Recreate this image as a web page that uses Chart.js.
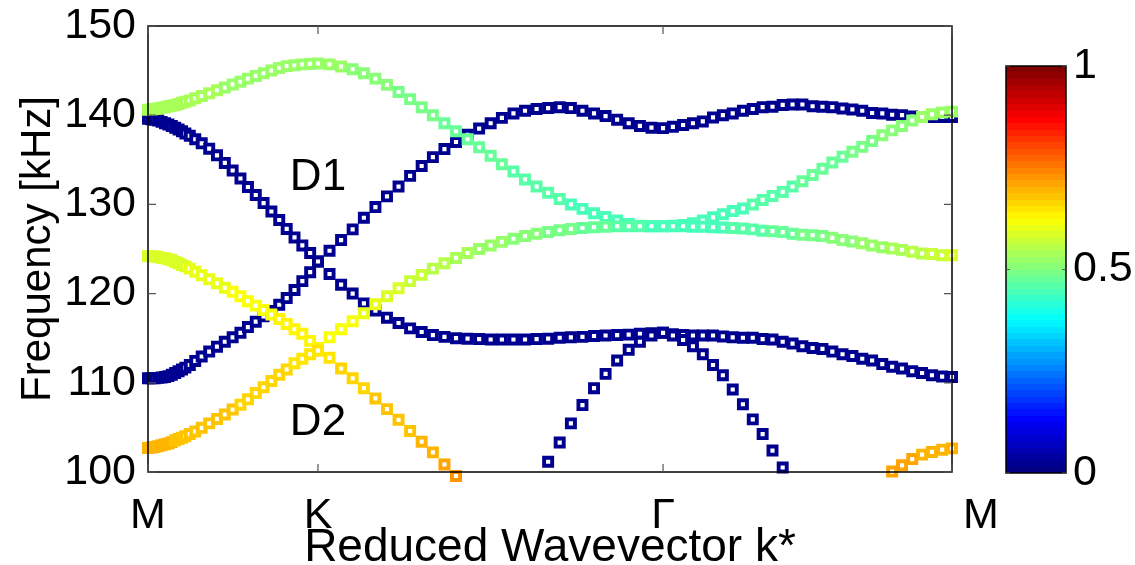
<!DOCTYPE html>
<html><head><meta charset="utf-8">
<script src="https://cdn.jsdelivr.net/npm/chart.js@4.4.0/dist/chart.umd.min.js"></script>
<style>
html,body{margin:0;padding:0;background:#fff;overflow:hidden;width:1135px;height:565px}
#main{position:absolute;left:0;top:0;width:1135px;height:565px}
#cbar{position:absolute;left:990px;top:0;width:145px;height:565px}
</style></head><body>
<div id="main"><canvas id="c1" width="1135" height="565"></canvas></div>
<div id="cbar"><canvas id="c2" width="145" height="565"></canvas></div>
<script>
// ---------------- DATA ----------------
const kTickValues = [0, 0.5, 1.515, 2.365];
const kTickLabels = ['M', 'K', 'Γ', 'M'];
const freqTicks = [100, 110, 120, 130, 140, 150];
const cbarTicks = [0, 0.5, 1];
const annotations = [{text: 'D1', k: 0.5, f: 133.0}, {text: 'D2', k: 0.5, f: 105.5}];

// reduced wavevector along M-K-Γ-M
const kPath = [
 0, 0.010, 0.020, 0.030, 0.040, 0.050, 0.060, 0.070, 0.080, 0.090, 0.100, 0.110, 0.123, 0.139, 0.158, 0.180, 0.203, 0.226, 0.249, 0.272, 0.294, 0.317, 0.340, 0.363, 0.386, 0.408, 0.431, 0.454, 0.477, 0.5,
 0.534, 0.568, 0.602, 0.635, 0.669, 0.703, 0.737, 0.771, 0.805, 0.838, 0.872, 0.906, 0.940, 0.974, 1.008, 1.041, 1.075, 1.109, 1.143, 1.177, 1.211, 1.244, 1.278, 1.312, 1.346, 1.380, 1.414, 1.447, 1.481, 1.515,
 1.544, 1.574, 1.603, 1.632, 1.662, 1.691, 1.720, 1.750, 1.779, 1.808, 1.837, 1.867, 1.896, 1.925, 1.955, 1.984, 2.013, 2.043, 2.072, 2.101, 2.130, 2.160, 2.189, 2.218, 2.248, 2.277, 2.306, 2.336, 2.365
];

const bandA = [
 110.5,110.5,110.5,110.55,110.6,110.65,110.75,110.9,111.1,111.3,111.5,111.7,112.0,112.45,112.95,113.5,114.05,114.6,115.1,115.6,116.25,116.85,117.45,118.05,118.75,119.5,120.4,121.4,122.4,123.6,
 124.8,126.0,127.2,128.5,129.7,130.9,132.0,133.2,134.3,135.3,136.2,137.0,137.8,138.5,139.1,139.7,140.2,140.5,140.7,140.8,140.9,140.8,140.5,140.2,139.9,139.5,139.1,138.8,138.6,138.55,
 138.7,138.9,139.1,139.3,139.75,140.0,140.2,140.5,140.7,140.9,140.95,141.15,141.2,141.2,141.0,140.95,140.9,140.75,140.65,140.5,140.25,140.2,140.05,140.0,139.85,139.8,139.8,139.8,139.8
];
const bandB = [
 139.6,139.55,139.5,139.4,139.25,139.1,138.95,138.8,138.6,138.4,138.2,137.95,137.7,137.3,136.85,136.25,135.5,134.65,133.8,132.9,131.95,131.05,130.15,129.2,128.25,127.25,126.3,125.4,124.55,123.6,
 122.2,121.0,120.0,118.9,118.1,117.3,116.7,116.1,115.7,115.35,115.15,115.0,114.95,114.9,114.85,114.85,114.85,114.85,114.9,114.95,115.05,115.1,115.15,115.25,115.3,115.35,115.4,115.5,115.55,115.6,
 115.45,115.35,115.3,115.3,115.3,115.2,115.1,115.05,115.05,114.9,114.85,114.6,114.4,114.1,113.9,113.8,113.5,113.2,113.0,112.7,112.5,112.1,111.8,111.6,111.3,111.1,110.85,110.7,110.65
];
const bandC = [
 140.6,140.65,140.7,140.75,140.85,140.9,141.0,141.05,141.15,141.25,141.4,141.5,141.65,141.9,142.15,142.45,142.8,143.1,143.45,143.75,144.1,144.4,144.7,145.0,145.3,145.5,145.6,145.7,145.75,145.8,
 145.7,145.45,145.15,144.7,144.1,143.4,142.6,141.8,140.9,140.0,139.1,138.2,137.3,136.4,135.45,134.5,133.7,132.8,132.0,131.3,130.6,130.0,129.5,129.0,128.6,128.2,127.8,127.6,127.55,127.55,
 127.6,127.7,127.9,128.2,128.55,128.9,129.25,129.55,130.0,130.5,130.95,131.4,132.0,132.6,133.3,134.0,134.7,135.35,135.9,136.45,137.1,137.75,138.3,138.8,139.4,139.8,140.1,140.3,140.4
];
const bandD = [
 124.2,124.2,124.15,124.1,124.0,123.95,123.85,123.75,123.55,123.4,123.2,123.05,122.8,122.45,122.05,121.6,121.15,120.65,120.2,119.7,119.15,118.65,118.15,117.65,117.15,116.6,116.0,115.5,114.7,113.9,
 115.1,116.0,116.9,117.8,118.8,119.7,120.6,121.4,122.1,122.8,123.4,124.0,124.55,125.0,125.4,125.8,126.15,126.45,126.7,126.9,127.1,127.25,127.35,127.45,127.5,127.55,127.55,127.55,127.55,127.55,
 127.55,127.55,127.5,127.5,127.45,127.4,127.35,127.3,127.2,127.05,127.0,126.9,126.7,126.6,126.55,126.45,126.25,126.0,125.85,125.65,125.4,125.2,125.05,124.9,124.7,124.5,124.45,124.3,124.3
];
const bandE = [
 102.7,102.75,102.8,102.9,103.0,103.1,103.2,103.35,103.55,103.7,103.85,104.0,104.25,104.55,104.95,105.45,105.95,106.45,107.0,107.55,108.15,108.85,109.5,110.2,110.9,111.5,112.2,112.7,113.2,113.6,
 112.8,111.6,110.5,109.4,108.25,107.05,105.85,104.6,103.4,102.2,100.85,99.55,null,null,null,null,null,null,null,null,null,null,null,null,null,null,null,null,null,null,
 null,null,null,null,null,null,null,null,null,null,null,null,null,null,null,null,null,null,null,null,null,null,100.05,100.75,101.45,101.95,102.25,102.5,102.65
];
const bandG = [
 null,null,null,null,null,null,null,null,null,null,null,null,null,null,null,null,null,null,null,null,null,null,null,null,null,null,null,null,null,null,
 null,null,null,null,null,null,null,null,null,null,null,null,null,null,null,null,null,null,null,101.15,103.3,105.45,107.5,109.4,111.0,112.5,113.7,114.6,115.3,115.6,
 115.3,114.8,114.1,113.2,112.0,110.85,109.25,107.6,105.9,104.25,102.4,100.5,null,null,null,null,null,null,null,null,null,null,null,null,null,null,null,null,null
];

// colour value (0..1) of each point
const polBlue = 0.02;
const polC = [
 0.545,0.545,0.545,0.54,0.54,0.54,0.54,0.54,0.54,0.535,0.535,0.535,0.535,0.535,0.535,0.535,0.535,0.53,0.53,0.53,0.53,0.53,0.53,0.53,0.53,0.53,0.53,0.53,0.53,0.53,
 0.525,0.52,0.515,0.51,0.505,0.5,0.497,0.494,0.49,0.487,0.484,0.481,0.478,0.475,0.472,0.469,0.466,0.463,0.46,0.457,0.455,0.452,0.45,0.448,0.446,0.444,0.442,0.44,0.44,0.44,
 0.44,0.441,0.442,0.444,0.446,0.448,0.45,0.452,0.455,0.458,0.461,0.464,0.467,0.47,0.473,0.476,0.48,0.484,0.488,0.492,0.496,0.5,0.505,0.51,0.515,0.52,0.525,0.53,0.53
];
const polD = [
 0.585,0.585,0.585,0.586,0.586,0.587,0.588,0.589,0.59,0.591,0.592,0.593,0.595,0.597,0.6,0.603,0.606,0.609,0.612,0.615,0.618,0.62,0.622,0.624,0.625,0.625,0.625,0.625,0.625,0.625,
 0.622,0.618,0.612,0.605,0.597,0.59,0.582,0.574,0.566,0.558,0.55,0.543,0.536,0.529,0.523,0.517,0.511,0.505,0.5,0.495,0.49,0.485,0.48,0.475,0.47,0.465,0.46,0.455,0.45,0.445,
 0.441,0.443,0.445,0.447,0.45,0.453,0.456,0.46,0.464,0.468,0.472,0.476,0.48,0.485,0.49,0.495,0.5,0.505,0.51,0.516,0.522,0.528,0.534,0.54,0.548,0.556,0.564,0.572,0.58
];
const polE = [
 0.69,0.69,0.69,0.69,0.69,0.69,0.689,0.688,0.687,0.686,0.685,0.684,0.683,0.682,0.68,0.678,0.676,0.674,0.672,0.67,0.668,0.666,0.664,0.662,0.66,0.658,0.656,0.654,0.652,0.65,
 0.655,0.66,0.665,0.67,0.674,0.678,0.682,0.687,0.692,0.698,0.706,0.72,null,null,null,null,null,null,null,null,null,null,null,null,null,null,null,null,null,null,
 null,null,null,null,null,null,null,null,null,null,null,null,null,null,null,null,null,null,null,null,null,null,0.715,0.71,0.705,0.7,0.697,0.695,0.693
];

// ---------------- STYLE HELPERS ----------------
function jet(v) {
  const idx = Math.max(0, Math.min(63, Math.floor(v * 64)));
  const t = idx / 63;
  const c = x => Math.round(255 * Math.max(0, Math.min(1, x)));
  const r = Math.min(4 * t - 1.5, -4 * t + 4.5);
  const g = Math.min(4 * t - 0.5, -4 * t + 3.5);
  const b = Math.min(4 * t + 0.5, -4 * t + 2.5);
  return `rgb(${c(r)},${c(g)},${c(b)})`;
}
const FONT = '"Liberation Sans", Arial, sans-serif';
const kLabelShift = [0, 0, 0, 29];   // horizontal nudge of tick labels (px)

function makeDataset(freqs, pols) {
  const pts = [], cols = [];
  freqs.forEach((f, i) => {
    if (f === null) return;
    pts.push({x: kPath[i], y: f});
    const p = Array.isArray(pols) ? pols[i] : pols;
    cols.push(jet(p));
  });
  return {
    data: pts,
    pointStyle: 'rect',
    pointRadius: 5.7,
    pointBorderWidth: 3.9,
    pointBackgroundColor: '#ffffff',
    pointBorderColor: cols,
    showLine: false,
    clip: false
  };
}

const framePlugin = {
  id: 'frame',
  afterDatasetsDraw(chart) {
    const {ctx, chartArea: a, scales} = chart;
    ctx.save();
    ctx.strokeStyle = '#000';
    ctx.lineWidth = 1.5;
    ctx.strokeRect(a.left, a.top, a.right - a.left, a.bottom - a.top);
    ctx.strokeStyle = '#555';
    ctx.lineWidth = 1.2;
    const L = 8;
    kTickValues.forEach(v => {
      const x = scales.x.getPixelForValue(v);
      ctx.beginPath();
      ctx.moveTo(x, a.bottom); ctx.lineTo(x, a.bottom - L);
      ctx.moveTo(x, a.top); ctx.lineTo(x, a.top + L);
      ctx.stroke();
    });
    freqTicks.forEach(v => {
      const y = scales.y.getPixelForValue(v);
      ctx.beginPath();
      ctx.moveTo(a.left, y); ctx.lineTo(a.left + L, y);
      ctx.moveTo(a.right, y); ctx.lineTo(a.right - L, y);
      ctx.stroke();
    });
    ctx.fillStyle = '#000';
    ctx.textAlign = 'center';
    ctx.textBaseline = 'middle';
    // x tick labels
    ctx.font = '43px ' + FONT;
    kTickValues.forEach((v, i) => {
      ctx.fillText(kTickLabels[i], scales.x.getPixelForValue(v) + kLabelShift[i], a.bottom + 44);
    });
    // annotations
    ctx.font = '44px ' + FONT;
    annotations.forEach(an => {
      ctx.fillText(an.text, scales.x.getPixelForValue(an.k), scales.y.getPixelForValue(an.f));
    });
    ctx.restore();
  }
};

new Chart(document.getElementById('c1'), {
  type: 'scatter',
  data: {
    datasets: [
      makeDataset(bandE, polE),
      makeDataset(bandD, polD),
      makeDataset(bandC, polC),
      makeDataset(bandG, polBlue),
      makeDataset(bandB, polBlue),
      makeDataset(bandA, polBlue)
    ]
  },
  options: {
    responsive: false,
    animation: false,
    devicePixelRatio: 1,
    layout: {padding: {left: 0, top: 26, right: 183, bottom: 0}},
    plugins: {legend: {display: false}, tooltip: {enabled: false}},
    scales: {
      x: {
        type: 'linear', min: kTickValues[0], max: kTickValues[kTickValues.length - 1],
        afterBuildTicks: s => { s.ticks = kTickValues.map(v => ({value: v})); },
        afterFit: s => { s.height = 93; s.paddingLeft = 0; s.paddingRight = 0; },
        grid: {display: false, drawTicks: false},
        border: {display: false},
        ticks: {display: false},
        title: {display: true, text: 'Reduced Wavevector k*', color: '#000',
          font: {family: FONT, size: 46, lineHeight: 1}, padding: {top: 0, bottom: -6}}
      },
      y: {
        type: 'linear', min: 100, max: 150,
        afterBuildTicks: s => { s.ticks = freqTicks.map(v => ({value: v})); },
        afterFit: s => { s.width = 148; s.paddingTop = 0; s.paddingBottom = 0; },
        grid: {display: false, drawTicks: false},
        border: {display: false},
        ticks: {padding: 12, color: '#000', font: {family: FONT, size: 43}},
        title: {display: true, text: 'Frequency [kHz]', color: '#000',
          font: {family: FONT, size: 42, lineHeight: 1.2}, padding: {top: 13, bottom: 0}}
      }
    }
  },
  plugins: [framePlugin]
});

// ---------------- COLORBAR ----------------
const cbarFrame = {
  id: 'cbarFrame',
  afterDatasetsDraw(chart) {
    const {ctx, chartArea: a, scales} = chart;
    ctx.save();
    ctx.strokeStyle = '#000';
    ctx.lineWidth = 1.5;
    ctx.strokeRect(a.left, a.top, a.right - a.left, a.bottom - a.top);
    ctx.lineWidth = 1.2;
    ctx.strokeStyle = '#555';
    cbarTicks.forEach(v => {
      const y = scales.y.getPixelForValue(v);
      ctx.beginPath();
      ctx.moveTo(a.left, y); ctx.lineTo(a.left + 4, y);
      ctx.moveTo(a.right, y); ctx.lineTo(a.right - 4, y);
      ctx.stroke();
    });
    ctx.restore();
  }
};

new Chart(document.getElementById('c2'), {
  type: 'bar',
  data: {
    labels: [''],
    datasets: [{
      data: [[cbarTicks[0], cbarTicks[cbarTicks.length - 1]]],
      barPercentage: 1, categoryPercentage: 1, borderWidth: 0,
      backgroundColor: ctx => {
        const a = ctx.chart.chartArea;
        if (!a) return '#000';
        const g = ctx.chart.ctx.createLinearGradient(0, a.bottom, 0, a.top);
        for (let i = 0; i < 64; i++) {
          const c = jet((i + 0.5) / 64);
          g.addColorStop(i / 64, c);
          g.addColorStop((i + 1) / 64, c);
        }
        return g;
      }
    }]
  },
  options: {
    responsive: false,
    animation: false,
    devicePixelRatio: 1,
    layout: {padding: {left: 16, top: 66, right: 0, bottom: 92}},
    plugins: {legend: {display: false}, tooltip: {enabled: false}},
    scales: {
      x: {display: false},
      y: {
        position: 'right', min: 0, max: 1,
        afterBuildTicks: s => { s.ticks = cbarTicks.map(v => ({value: v})); },
        afterFit: s => { s.width = 69; s.paddingTop = 0; s.paddingBottom = 0; },
        grid: {display: false, drawTicks: false},
        border: {display: false},
        ticks: {padding: 7, color: '#000', font: {family: FONT, size: 43}, callback: v => String(v)}
      }
    }
  },
  plugins: [cbarFrame]
});
</script>
</body></html>
